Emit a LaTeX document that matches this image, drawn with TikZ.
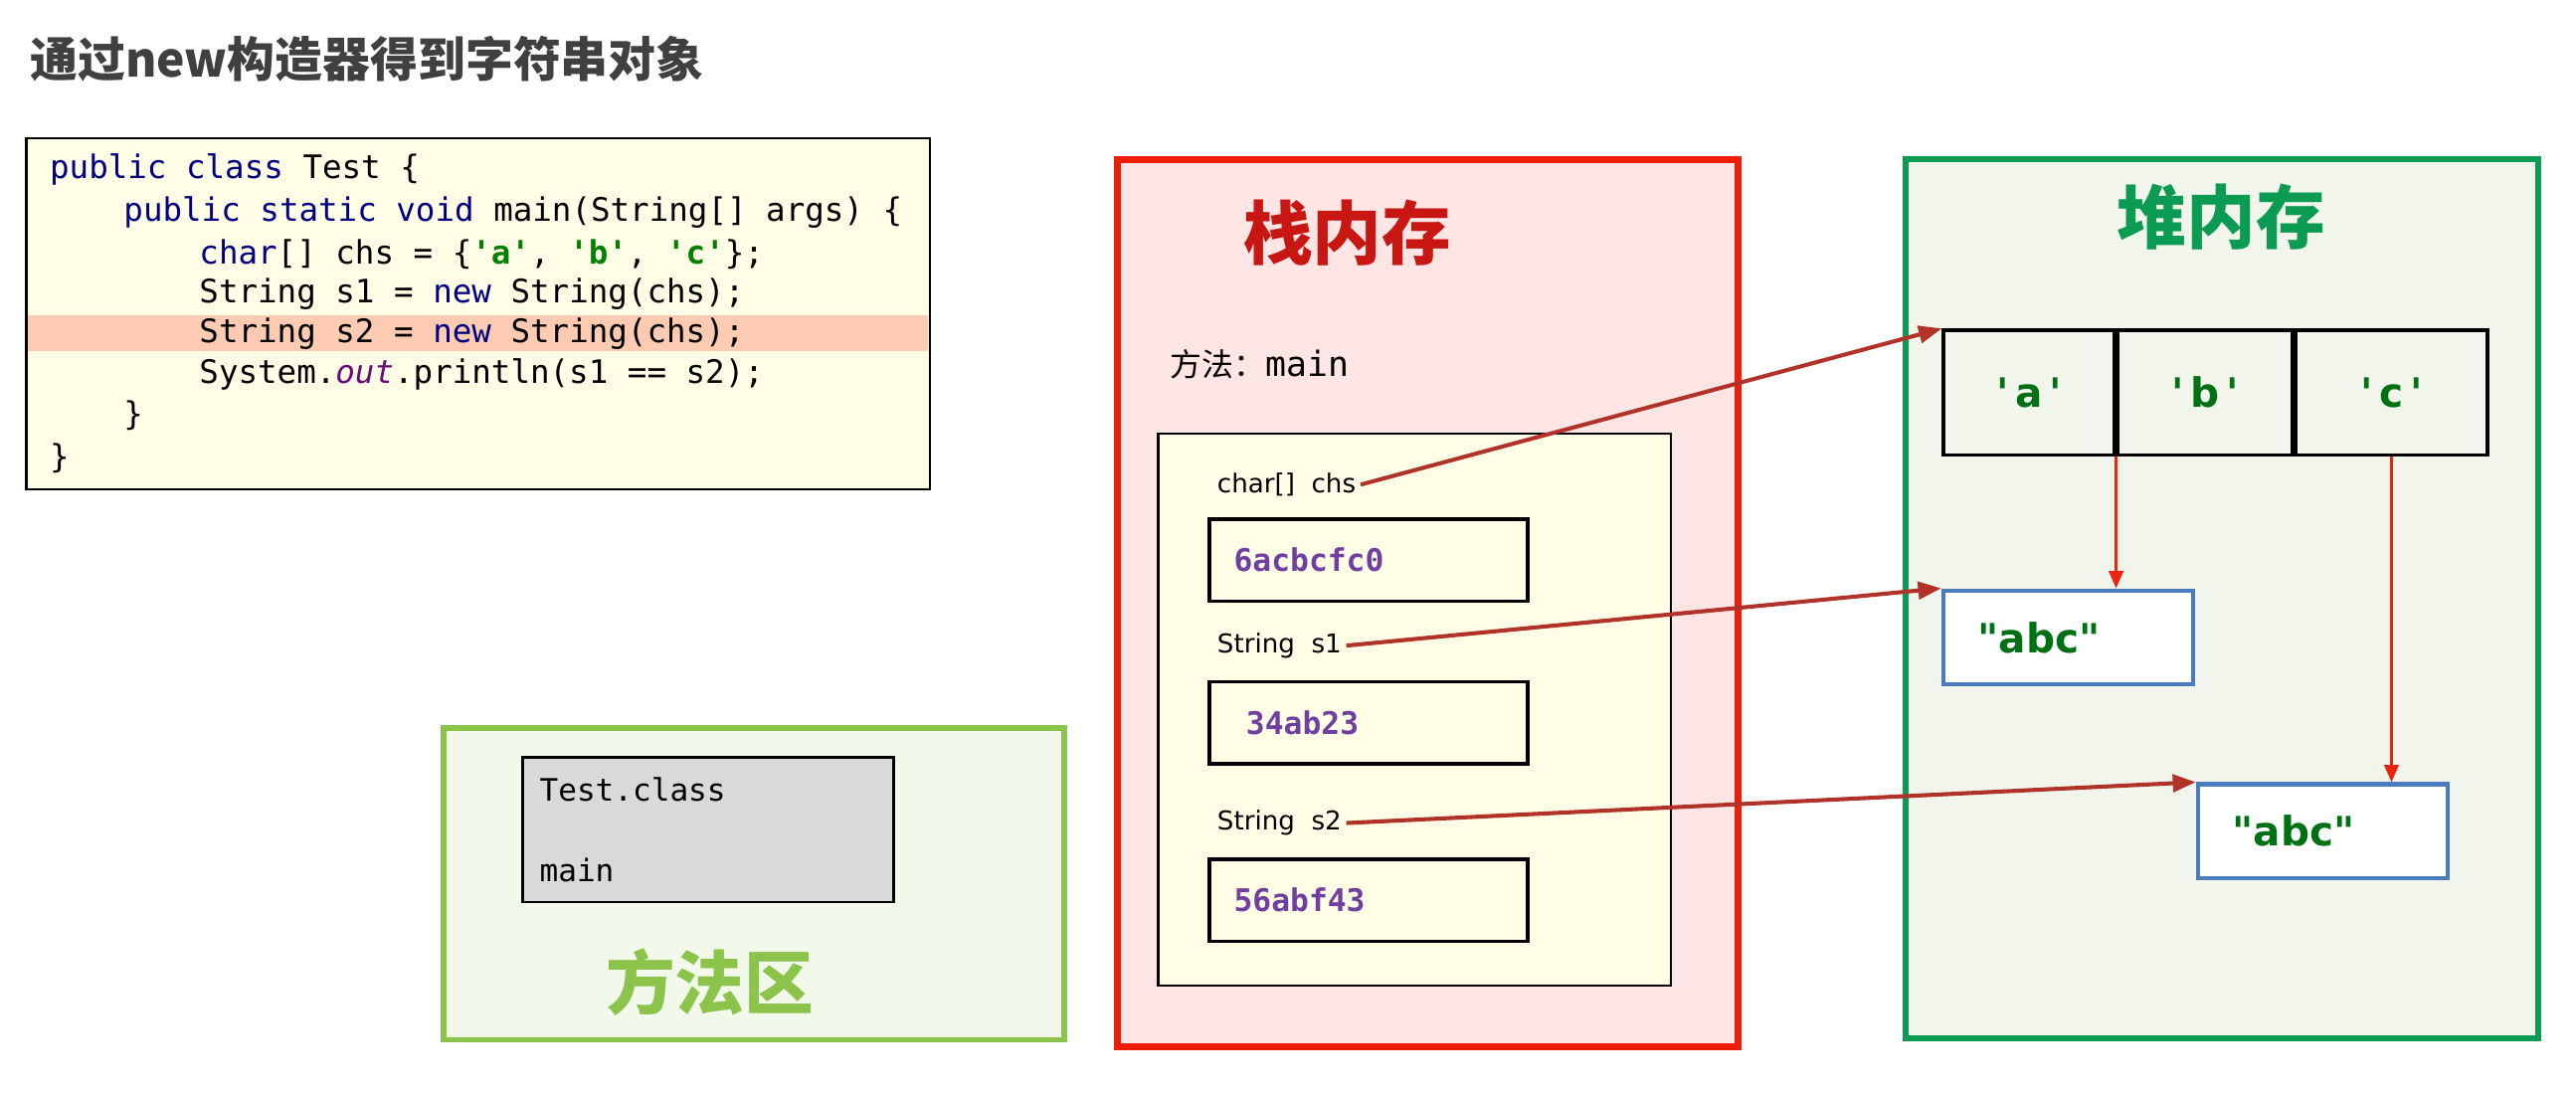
\documentclass[tikz,border=0pt]{standalone}
\usepackage{fontspec}
\usepackage{xcolor}
\usepackage{tikz}
\usetikzlibrary{positioning, arrows.meta}

\newfontfamily\cjk{Noto Sans CJK SC}
\newfontfamily\codefont{DejaVu Sans Mono}
\newfontfamily\labelfont{DejaVu Sans}

\definecolor{stackred}{RGB}{240,28,10}
\definecolor{stackfill}{RGB}{255,229,227}
\definecolor{stacktitle}{RGB}{200,22,18}
\definecolor{heapgreen}{RGB}{12,155,82}
\definecolor{heapfill}{RGB}{242,245,236}
\definecolor{methgreen}{RGB}{140,195,75}
\definecolor{methfill}{RGB}{242,248,234}
\definecolor{paper}{RGB}{255,253,230}
\definecolor{hilite}{RGB}{253,203,178}
\definecolor{kw}{RGB}{0,0,128}
\definecolor{strgreen}{RGB}{0,128,0}
\definecolor{outpurple}{RGB}{102,14,122}
\definecolor{addrpurple}{RGB}{112,64,160}
\definecolor{valgreen}{RGB}{0,112,20}
\definecolor{refred}{RGB}{176,50,40}
\definecolor{linkred}{RGB}{235,35,15}
\definecolor{boxblue}{RGB}{75,125,190}
\definecolor{titlegray}{RGB}{64,64,64}

\begin{document}
\begin{tikzpicture}[x=0.02cm, y=-0.02cm,
	code/.style={anchor=west, inner sep=0pt, font=\codefont\fontsize{11.2}{14}\selectfont},
	varname/.style={anchor=west, inner sep=1.5pt, font=\labelfont\fontsize{9}{11}\selectfont},
	valbox/.style={draw, line width=1.2pt, fill=paper, minimum height=1cm, text width=3.28cm, inner xsep=0.3cm, align=left, text=addrpurple, font=\codefont\bfseries\fontsize{10.8}{13}\selectfont},
	cell/.style={draw, line width=1.2pt, minimum height=1.52cm, inner sep=0pt, text=valgreen, font=\labelfont\bfseries\fontsize{14}{16}\selectfont},
	strbox/.style={draw=boxblue, line width=1.6pt, fill=white, minimum height=1.14cm, text width=2.2cm, inner xsep=0.42cm, align=left, text=valgreen, font=\labelfont\bfseries\fontsize{14}{16}\selectfont},
	areatitle/.style={inner sep=0pt, font=\cjk\bfseries\fontsize{24}{28}\selectfont},
	ref/.style={draw=refred, line width=1.4pt, -{Triangle[length=8pt,width=6pt]}},
	link/.style={draw=linkred, line width=0.9pt, -{Triangle[length=6pt,width=5pt]}}]
	\useasboundingbox (0,0) rectangle (1568,666);
	\fill[white] (0,0) rectangle (1568,666);
	
	% Title
	\node[anchor=west, inner sep=0pt, text=titlegray, font=\cjk\bfseries\fontsize{16.5}{20}\selectfont] (title) at (18,36) {通过new构造器得到字符串对象};
	
	% Source code
	\fill[paper] (16,84) rectangle (566,298);
	\fill[hilite] (17,192) rectangle (565,214);
	\draw[line width=0.8pt] (16,84) rectangle (566,298);
	\node[code] (code1) at (30,103) {{\color{kw}public class} Test \{};
	\node[code] (code2) at (75,129) {{\color{kw}public static void} main(String[] args) \{};
	\node[code] (code3) at (121,155) {{\color{kw}char}[] chs = \{{\color{strgreen}\bfseries'a'}, {\color{strgreen}\bfseries'b'}, {\color{strgreen}\bfseries'c'}\};};
	\node[code] (code4) at (121,179) {String s1 = {\color{kw}new} String(chs);};
	\node[code] (code5) at (121,203) {String s2 = {\color{kw}new} String(chs);};
	\node[code] (code6) at (121,228) {System.{\color{outpurple}\itshape out}.println(s1 == s2);};
	\node[code] (code7) at (75,253) {\}};
	\node[code] (code8) at (30,279) {\}};
	
	% Method area
	\filldraw[fill=methfill, draw=methgreen, line width=2pt] (270,443) rectangle (648,633);
	\node[draw, line width=0.9pt, fill=black!15, minimum height=1.76cm, text width=4.1cm, inner xsep=0.21cm, align=left, font=\codefont\fontsize{10.7}{13}\selectfont] (classbox) at (431,505) {Test.class\\[15pt]main};
	\node[areatitle, text=methgreen] (methtitle) at (432,598) {方法区};
	
	% Stack memory
	\filldraw[fill=stackfill, draw=stackred, line width=2.4pt] (680,97) rectangle (1058,637);
	\node[areatitle, text=stacktitle] (stacktitle) at (820,142) {栈内存};
	\node[anchor=west, inner sep=0pt] (frame) at (712,222) {\cjk\fontsize{11}{13}\selectfont 方法：\codefont\fontsize{12}{14}\selectfont main};
	\filldraw[fill=paper, draw=black, line width=0.9pt] (705,264) rectangle (1017,600);
	\node[varname] (chs) at (738,295) {char[]\ \ chs};
	\node[valbox] (chsval) at (833,341) {6acbcfc0};
	\node[varname] (s1) at (738,393) {String\ \ s1};
	\node[valbox] (s1val) at (833,440) {\hspace{0.15cm}34ab23};
	\node[varname] (s2) at (738,501) {String\ \ s2};
	\node[valbox] (s2val) at (833,548) {56abf43};
	
	% Heap memory
	\filldraw[fill=heapfill, draw=heapgreen, line width=2pt] (1160,97) rectangle (1545,632);
	\node[areatitle, text=heapgreen] (heaptitle) at (1352,132) {堆内存};
	\node[cell, minimum width=2.08cm] (cella) at (1235,239) {'\,a\,'\hspace{0.1cm}};
	\node[cell, minimum width=2.12cm, right=0pt of cella] (cellb) {'\,b\,'\hspace{0.1cm}};
	\node[cell, minimum width=2.34cm, right=0pt of cellb] (cellc) {'\,c\,'\hspace{0.3cm}};
	\node[strbox] (abc1) at (1259,388) {"abc"};
	\node[strbox] (abc2) at (1414,506) {"abc"};
	
	% References
	\draw[ref] (chs.east) -- (cella.north west);
	\draw[ref] (s1.east) -- (abc1.north west);
	\draw[ref] (s2.east) -- (abc2.north west);
	\draw[link] (cella.south east) -- (cella.south east |- abc1.north);
	\draw[link] (cellc.south) -- (abc2.north -| cellc.south);
\end{tikzpicture}
\end{document}
